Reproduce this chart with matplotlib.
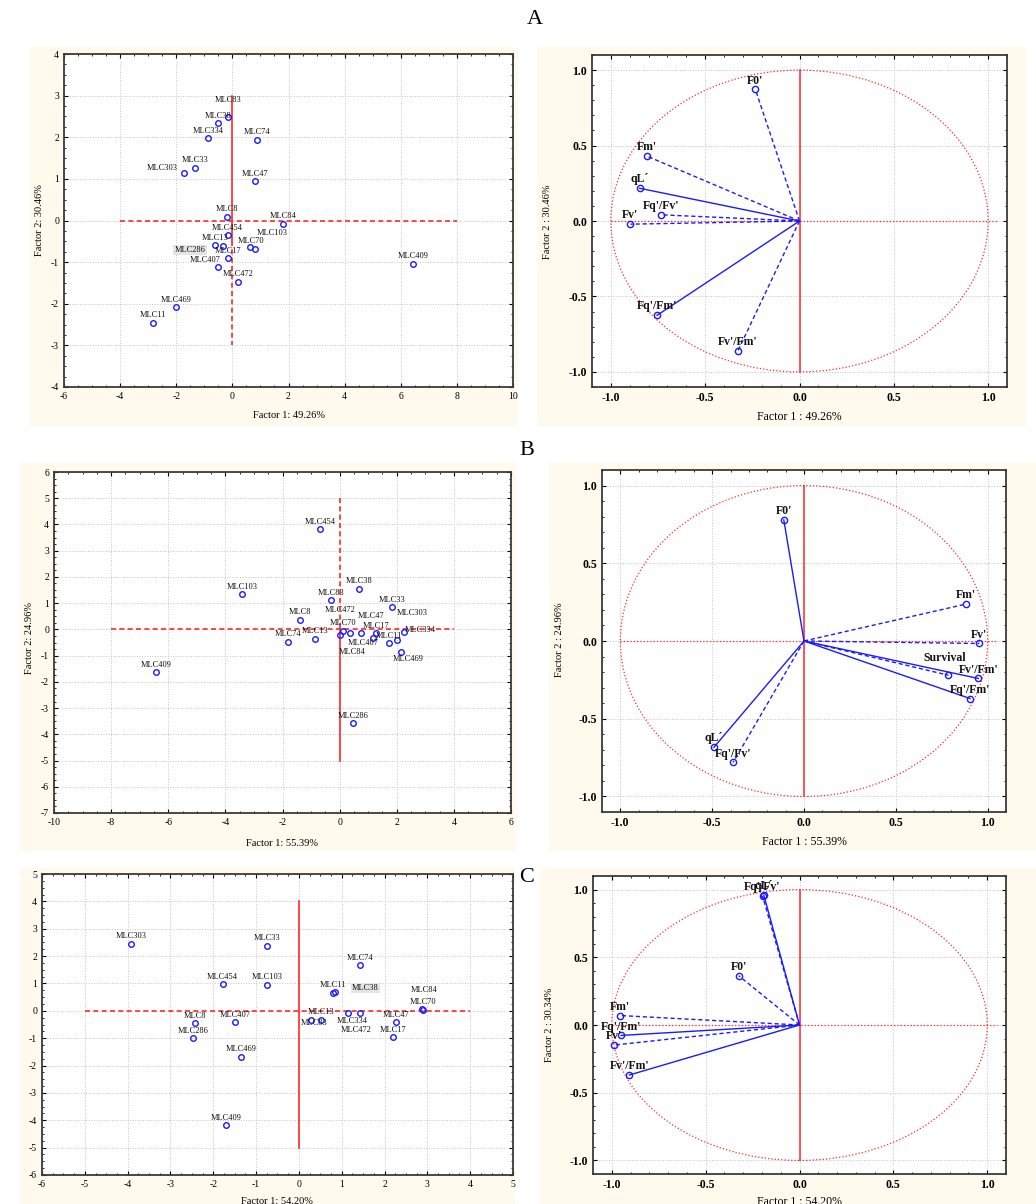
import numpy as np
import matplotlib.pyplot as plt
from matplotlib.patches import Circle, Rectangle
from matplotlib.ticker import MultipleLocator, AutoMinorLocator, FormatStrFormatter

plt.rcParams['font.family'] = ['Liberation Serif', 'DejaVu Serif']
plt.rcParams['axes.unicode_minus'] = False

W, H = 1036, 1204

# ---------------- scores of genotypes ----------------
a_names = ['MLC83', 'MLC38', 'MLC334', 'MLC74', 'MLC33', 'MLC303', 'MLC47', 'MLC8', 'MLC84', 'MLC454',
           'MLC13', 'MLC286', 'MLC17', 'MLC407', 'MLC70', 'MLC103', 'MLC472', 'MLC409', 'MLC469', 'MLC11']
a_f1 = [-0.14, -0.51, -0.86, 0.88, -1.32, -1.72, 0.81, -0.20, 1.80, -0.17,
        -0.62, -0.32, -0.15, -0.51, 0.63, 0.81, 0.21, 6.43, -2.00, -2.83]
a_f2 = [2.49, 2.34, 1.97, 1.94, 1.27, 1.15, 0.94, 0.09, -0.08, -0.35,
        -0.59, -0.61, -0.91, -1.12, -0.64, -0.69, -1.47, -1.04, -2.09, -2.46]

b_names = ['MLC454', 'MLC103', 'MLC38', 'MLC83', 'MLC33', 'MLC8', 'MLC74', 'MLC13', 'MLC409', 'MLC286',
           'MLC469', 'MLC334', 'MLC70', 'MLC472', 'MLC47', 'MLC17', 'MLC407', 'MLC11', 'MLC84', 'MLC303']
b_f1 = [-0.69, -3.42, 0.69, -0.29, 1.83, -1.40, -1.79, -0.86, -6.43, 0.46,
        2.16, 2.25, 0.13, 0.36, 0.74, 1.27, 1.16, 1.74, 0.00, 2.01]
b_f2 = [3.82, 1.33, 1.54, 1.12, 0.85, 0.36, -0.48, -0.36, -1.64, -3.57,
        -0.85, -0.10, -0.05, -0.13, -0.15, -0.14, -0.33, -0.52, -0.23, -0.41]

c_names = ['MLC303', 'MLC33', 'MLC74', 'MLC454', 'MLC103', 'MLC11', 'MLC38', 'MLC84', 'MLC70', 'MLC13',
           'MLC83', 'MLC334', 'MLC472', 'MLC47', 'MLC17', 'MLC8', 'MLC407', 'MLC286', 'MLC469', 'MLC409']
c_f1 = [-3.91, -0.75, 1.42, -1.78, -0.75, 0.80, 0.84, 2.87, 2.90, 0.52,
        0.28, 1.15, 1.42, 2.26, 2.19, -2.43, -1.50, -2.48, -1.35, -1.70]
c_f2 = [2.45, 2.37, 1.67, 0.98, 0.96, 0.66, 0.68, 0.07, 0.03, -0.33,
        -0.33, -0.07, -0.09, -0.41, -0.96, -0.46, -0.41, -1.00, -1.68, -4.18]

# ---------------- variable loadings ----------------
a_vars = ["F0'", "Fm'", "qL´", "Fq'/Fv'", "Fv'", "Fq'/Fm'", "Fv'/Fm'"]
a_l1 = [-0.234, -0.811, -0.848, -0.733, -0.896, -0.755, -0.327]
a_l2 = [0.872, 0.431, 0.217, 0.041, -0.021, -0.625, -0.862]
a_ls = ['--', '--', '-', '--', '--', '-', '--']

b_vars = ["F0'", "Fm'", "Fv'", "Survival", "Fv'/Fm'", "Fq'/Fm'", "qL´", "Fq'/Fv'"]
b_l1 = [-0.110, 0.880, 0.955, 0.786, 0.949, 0.904, -0.490, -0.386]
b_l2 = [0.779, 0.237, -0.016, -0.220, -0.241, -0.370, -0.683, -0.781]
b_ls = ['-', '--', '--', '--', '-', '-', '-', '--']

c_vars = ["Fq'/Fv'", "qL´", "F0'", "Fm'", "Fq'/Fm'", "Fv'", "Fv'/Fm'"]
c_l1 = [-0.197, -0.190, -0.324, -0.957, -0.950, -0.986, -0.906]
c_l2 = [0.953, 0.958, 0.364, 0.070, -0.077, -0.148, -0.369]
c_ls = ['--', '-', '--', '--', '-', '--', '-']

# label offsets in points (default is straight above the point)
a_off = {'MLC83': (0, 11.8), 'MLC303': (-15.8, 3.1), 'MLC286': (-24, -2.9),
         'MLC407': (-9.1, 5.3), 'MLC70': (0.5, 4.1), 'MLC103': (12.5, 12)}
b_off = {'MLC303': (10.6, 19.2), 'MLC472': (-7.4, 16.6), 'MLC47': (7.7, 12.2),
         'MLC407': (-7.2, -3.4), 'MLC84': (8.9, -12.2), 'MLC334': (11.5, 1.7),
         'MLC469': (5, -5.3)}
c_off = {'MLC38': (22, 3.1), 'MLC84': (1.7, 13.7), 'MLC83': (2.4, -2.4),
         'MLC334': (2.6, -6.2), 'MLC472': (-2.6, -12.2)}
b_var_off = {'Survival': (-2.6, 12.2)}

CREAM = '#fff9ee'
BLUE = '#1a1aff'
RED = '#ff2a2a'

fig = plt.figure(figsize=(W / 100, H / 100), dpi=100)


def rect(x0, y0, x1, y1):
    return [x0 / W, 1 - y1 / H, (x1 - x0) / W, (y1 - y0) / H]


def bg(x0, y0, x1, y1):
    fig.patches.append(Rectangle((x0 / W, 1 - y1 / H), (x1 - x0) / W, (y1 - y0) / H,
                                 transform=fig.transFigure, facecolor=CREAM,
                                 edgecolor='none', zorder=-10))


def ftext(x, y, s, **kw):
    fig.text(x / W, 1 - y / H, s, ha='center', va='center', **kw)


def style_axes(ax, fs, bold=False):
    ax.grid(True, which='major', ls=':', color='#c4c4c4', lw=0.7)
    ax.set_axisbelow(True)
    ax.tick_params(which='both', direction='in', top=True, right=True, labelsize=fs)
    ax.tick_params(which='major', length=3)
    ax.tick_params(which='minor', length=1.5)
    for sp in ax.spines.values():
        sp.set_linewidth(1.3)
        sp.set_color('#3a3a3a')
    if bold:
        for t in ax.get_xticklabels() + ax.get_yticklabels():
            t.set_fontweight('bold')


def score_panel(box, names, f1, f2, offs, xlim, ylim, xstep, hline, vlines, boxed):
    ax = fig.add_axes(rect(*box))
    ax.plot(hline, [0, 0], ls='--', color=RED, lw=1.2, dashes=(3, 2))
    for seg, ls in vlines:
        if ls == '-':
            ax.plot([0, 0], seg, ls='-', color=RED, lw=1.2)
        else:
            ax.plot([0, 0], seg, ls='--', color=RED, lw=1.2, dashes=(3, 2))
    ax.plot(f1, f2, 'o', ms=4, mfc='none', mec=BLUE, mew=1.0, ls='none')
    for n, x, y in zip(names, f1, f2):
        dx, dy = offs.get(n, (0, 5.4))
        kw = {}
        txt = n
        if n in boxed:
            kw['bbox'] = dict(boxstyle='square,pad=0.15', fc='#e4e4e4', ec='none')
        ax.annotate(txt, (x, y), xytext=(dx, dy), textcoords='offset points',
                    ha='center', va='center', fontsize=6, color='#111111', **kw)
    ax.set_xlim(*xlim)
    ax.set_ylim(*ylim)
    ax.xaxis.set_major_locator(MultipleLocator(xstep))
    ax.yaxis.set_major_locator(MultipleLocator(1))
    ax.xaxis.set_minor_locator(AutoMinorLocator(4))
    ax.yaxis.set_minor_locator(AutoMinorLocator(4))
    style_axes(ax, 7)
    return ax


def loading_panel(box, names, l1, l2, lss, offs):
    ax = fig.add_axes(rect(*box))
    ax.add_patch(Circle((0, 0), 1, fill=False, ls=':', ec=RED, lw=0.9))
    ax.plot([-1, 1.05], [0, 0], ls=':', color=RED, lw=0.9)
    ax.plot([0, 0], [-1, 1], ls='-', color=RED, lw=1.1)
    for n, x, y, ls in zip(names, l1, l2, lss):
        if ls == '-':
            ax.plot([0, x], [0, y], ls='-', color=BLUE, lw=1.0)
        else:
            ax.plot([0, x], [0, y], ls='--', color=BLUE, lw=1.0, dashes=(3, 2))
        ax.plot(x, y, 'o', ms=4.5, mfc='none', mec=BLUE, mew=1.0)
        dx, dy = offs.get(n, (0, 6.4))
        ax.annotate(n, (x, y), xytext=(dx, dy), textcoords='offset points',
                    ha='center', va='center', fontsize=8.5, fontweight='bold', color='#111111')
    ax.set_xlim(-1.1, 1.1)
    ax.set_ylim(-1.1, 1.1)
    ax.xaxis.set_major_locator(MultipleLocator(0.5))
    ax.yaxis.set_major_locator(MultipleLocator(0.5))
    ax.xaxis.set_major_formatter(FormatStrFormatter('%.1f'))
    ax.yaxis.set_major_formatter(FormatStrFormatter('%.1f'))
    ax.xaxis.set_minor_locator(AutoMinorLocator(5))
    ax.yaxis.set_minor_locator(AutoMinorLocator(5))
    style_axes(ax, 8.5, bold=True)
    return ax


# cream backgrounds behind each panel
bg(30, 47, 518, 426)
bg(537, 47, 1026, 426)
bg(20, 463, 516, 851)
bg(549, 463, 1036, 851)
bg(20, 868, 515, 1204)
bg(540, 868, 1036, 1204)

# ---- row A ----
score_panel((64, 54, 513, 387), a_names, a_f1, a_f2, a_off, (-6, 10), (-4, 4), 2,
            [-4, 8], [([3, -0.5], '-'), ([-0.5, -3], '--')], ['MLC286'])
ftext(289, 416, 'Factor 1: 49.26%', fontsize=7.5)
ftext(39, 220, 'Factor 2: 30.46%', fontsize=7.5, rotation=90)

loading_panel((592, 55, 1007, 387), a_vars, a_l1, a_l2, a_ls, {})
ftext(799, 417, 'Factor 1 : 49.26%', fontsize=8.5)
ftext(548, 222, 'Factor 2 : 30.46%', fontsize=7.5, rotation=90)

# ---- row B ----
score_panel((54, 472, 511, 813), b_names, b_f1, b_f2, b_off, (-10, 6), (-7, 6), 2,
            [-8, 4], [([5, 0], '--'), ([0, -5], '-')], [])
ftext(282, 844, 'Factor 1: 55.39%', fontsize=7.5)
ftext(29, 638, 'Factor 2: 24.96%', fontsize=7.5, rotation=90)

loading_panel((602, 470, 1006, 812), b_vars, b_l1, b_l2, b_ls, b_var_off)
ftext(804, 842, 'Factor 1 : 55.39%', fontsize=8.5)
ftext(560, 640, 'Factor 2 : 24.96%', fontsize=7.5, rotation=90)

# ---- row C ----
score_panel((42, 874, 513, 1175), c_names, c_f1, c_f2, c_off, (-6, 5), (-6, 5), 1,
            [-5, 4], [([4, -5], '-')], ['MLC38'])
ftext(277, 1201, 'Factor 1: 54.20%', fontsize=7.5)

loading_panel((593, 876, 1006, 1174), c_vars, c_l1, c_l2, c_ls, {})
ftext(799, 1202, 'Factor 1 : 54.20%', fontsize=8.5)
ftext(549, 1025, 'Factor 2 : 30.34%', fontsize=7.5, rotation=90)

# panel letters
ftext(535, 20, 'A', fontsize=16)
ftext(527, 450, 'B', fontsize=16)
ftext(527, 877, 'C', fontsize=16)

fig.savefig('out.png', dpi=100, facecolor='white')
